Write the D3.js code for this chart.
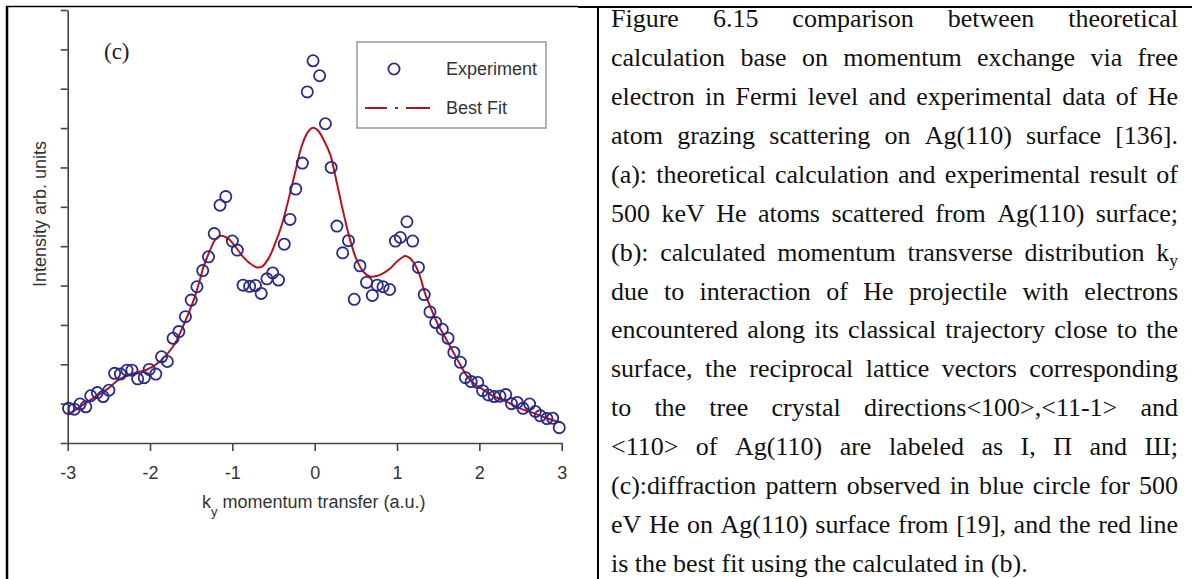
<!DOCTYPE html>
<meta charset="utf-8">
<script src="https://cdn.jsdelivr.net/npm/d3@7/dist/d3.min.js"></script>
<style>
  body { margin: 0; background: #fff; }
</style>

<div id="page"></div>

<script>
// ******************************************
// data
// ******************************************
const xTicks = [-3, -2, -1, 0, 1, 2, 3];
const yTicks = [0, 1, 2, 3, 4, 5, 6, 7, 8, 9, 10, 11];

// experiment (blue circles): k_y and intensity
const expK = [-2.99, -2.92, -2.85, -2.78, -2.72, -2.64, -2.57, -2.50, -2.43, -2.36,
              -2.28, -2.22, -2.15, -2.07, -2.01, -1.93, -1.86, -1.79, -1.72, -1.65,
              -1.57, -1.50, -1.43, -1.36, -1.29, -1.22, -1.15, -1.08, -1.00, -0.94,
              -0.87, -0.79, -0.72, -0.65, -0.58, -0.51, -0.44, -0.37, -0.30, -0.23,
              -0.15, -0.09, -0.02, 0.06, 0.13, 0.20, 0.27, 0.34, 0.41, 0.48,
              0.55, 0.63, 0.70, 0.76, 0.83, 0.91, 0.98, 1.04, 1.12, 1.19,
              1.26, 1.33, 1.40, 1.47, 1.55, 1.62, 1.69, 1.77, 1.83, 1.90,
              1.98, 2.04, 2.11, 2.18, 2.25, 2.32, 2.39, 2.46, 2.53, 2.61,
              2.68, 2.74, 2.82, 2.89, 2.97];
const expI = [0.88, 0.86, 0.99, 0.92, 1.20, 1.28, 1.18, 1.34, 1.77, 1.75,
              1.85, 1.85, 1.63, 1.66, 1.87, 1.75, 2.19, 2.07, 2.66, 2.83,
              3.21, 3.63, 3.97, 4.38, 4.73, 5.32, 6.04, 6.26, 5.13, 4.90,
              4.01, 3.98, 4.00, 3.80, 4.17, 4.32, 4.14, 5.05, 5.68, 6.45,
              7.11, 8.92, 9.71, 9.33, 8.11, 7.00, 5.51, 4.83, 5.14, 3.65,
              4.50, 4.08, 3.75, 4.01, 3.97, 3.90, 5.13, 5.22, 5.62, 5.13,
              4.46, 3.77, 3.33, 3.06, 2.89, 2.66, 2.30, 2.05, 1.66, 1.56,
              1.54, 1.33, 1.22, 1.18, 1.19, 1.23, 1.00, 1.03, 0.88, 0.99,
              0.80, 0.69, 0.62, 0.63, 0.39];

// best fit (red line)
const fitK = [-3.00, -2.85, -2.69, -2.53, -2.37, -2.20, -2.04, -1.88, -1.72, -1.60,
              -1.47, -1.39, -1.35, -1.27, -1.21, -1.15, -1.09, -1.03, -0.95, -0.87,
              -0.79, -0.70, -0.64, -0.56, -0.48, -0.40, -0.32, -0.24, -0.16, -0.08,
              -0.02, 0.04, 0.13, 0.19, 0.27, 0.35, 0.43, 0.51, 0.59, 0.67,
              0.75, 0.83, 0.92, 1.00, 1.10, 1.16, 1.22, 1.28, 1.34, 1.42,
              1.50, 1.58, 1.68, 1.77, 1.85, 1.93, 2.05, 2.17, 2.33, 2.49,
              2.66, 2.82, 3.00];
const fitI = [0.71, 0.92, 1.14, 1.35, 1.62, 1.77, 1.86, 2.07, 2.45, 2.96,
              3.63, 4.18, 4.48, 4.90, 5.16, 5.26, 5.24, 5.16, 4.95, 4.73,
              4.57, 4.46, 4.48, 4.69, 5.07, 5.54, 6.17, 6.85, 7.53, 7.91,
              8.01, 7.94, 7.61, 7.32, 6.60, 5.84, 5.16, 4.65, 4.35, 4.23,
              4.24, 4.31, 4.44, 4.61, 4.75, 4.69, 4.52, 4.23, 3.80, 3.38,
              3.00, 2.70, 2.32, 1.98, 1.70, 1.52, 1.35, 1.19, 1.05, 0.88,
              0.76, 0.63, 0.52];

const legendLabels = ["Experiment", "Best Fit"];

const captionLines = [
    "Figure 6.15 comparison between theoretical",
    "calculation base on momentum exchange via free",
    "electron in Fermi level and experimental data of He",
    "atom grazing scattering on Ag(110) surface [136].",
    "(a): theoretical calculation and experimental result of",
    "500 keV He atoms scattered from Ag(110) surface;",
    "(b): calculated momentum transverse distribution k_y",
    "due to interaction of He projectile with electrons",
    "encountered along its classical trajectory close to the",
    "surface, the reciprocal lattice vectors corresponding",
    "to the tree crystal directions<100>,<11-1> and",
    "<110> of Ag(110) are labeled as I, \u03A0 and \u0428;",
    "(c):diffraction pattern observed in blue circle for 500",
    "eV He on Ag(110) surface from [19], and the red line",
    "is the best fit using the calculated in (b)."
];

// ******************************************
// page
// ******************************************
const W = 1192, H = 579;
const svg = d3.select("#page").append("svg").attr("width", W).attr("height", H);

// table lines
svg.append("line").attr("x1", 6).attr("x2", 578).attr("y1", 6.5).attr("y2", 6.5)
    .attr("stroke", "#000").attr("stroke-width", 1.5);
svg.append("line").attr("x1", 578).attr("x2", W).attr("y1", 7).attr("y2", 7)
    .attr("stroke", "#000").attr("stroke-width", 2);
svg.append("line").attr("x1", 7).attr("x2", 7).attr("y1", 6).attr("y2", H)
    .attr("stroke", "#000").attr("stroke-width", 2.5);
svg.append("line").attr("x1", 598).attr("x2", 598).attr("y1", 6).attr("y2", H)
    .attr("stroke", "#000").attr("stroke-width", 2);

// ******************************************
// chart
// ******************************************
const x = d3.scaleLinear().domain([-3, 3]).range([67.7, 561.7]);
const y = d3.scaleLinear().domain([0, 11]).range([443, 10]);

const axisColor = "#444";
const labelFont = "'Liberation Sans', Arial, sans-serif";
const serifFont = "'Liberation Serif', 'Times New Roman', serif";

const gx = svg.append("g")
    .attr("transform", "translate(0," + y(0) + ")")
    .call(d3.axisBottom(x).tickValues(xTicks).tickSize(8).tickSizeOuter(0).tickPadding(15)
          .tickFormat(d3.format("d")));
const gy = svg.append("g")
    .attr("transform", "translate(" + x(-3) + ",0)")
    .call(d3.axisLeft(y).tickValues(yTicks).tickSize(7).tickSizeOuter(0).tickFormat(""));

[gx, gy].forEach(function (g) {
    g.selectAll("path, line").attr("stroke", axisColor).attr("stroke-width", 1.6);
});
gx.selectAll("text").attr("font-family", labelFont).attr("font-size", 18).attr("fill", "#333")
    .text(function (d) { return d < 0 ? "-" + Math.abs(d) : d; });

// axis titles
const xt = svg.append("text")
    .attr("x", x(0) - 1).attr("y", 508)
    .attr("text-anchor", "middle")
    .attr("font-family", labelFont).attr("font-size", 18).attr("fill", "#333");
xt.append("tspan").text("k");
xt.append("tspan").attr("dy", 8).attr("font-size", 13).text("y");
xt.append("tspan").attr("dy", -8).text(" momentum transfer (a.u.)");

svg.append("text")
    .attr("transform", "translate(46,214) rotate(-90)")
    .attr("text-anchor", "middle")
    .attr("font-family", labelFont).attr("font-size", 18).attr("fill", "#333")
    .text("Intensity arb. units");

svg.append("text")
    .attr("x", 104).attr("y", 59)
    .attr("font-family", serifFont).attr("font-size", 23)
    .attr("fill", "#222")
    .text("(c)");

// best fit line
const blue = "#2b2b86", red = "#b3141d";
const fitData = fitK.map(function (k, i) { return {k: k, v: fitI[i]}; });
svg.append("path")
    .datum(fitData)
    .attr("fill", "none").attr("stroke", red).attr("stroke-width", 2)
    .attr("d", d3.line().x(function (d) { return x(d.k); }).y(function (d) { return y(d.v); })
          .curve(d3.curveCatmullRom.alpha(0.5)));

// experiment circles
const expData = expK.map(function (k, i) { return {k: k, v: expI[i]}; });
svg.append("g").selectAll("circle")
    .data(expData)
    .enter()
        .append("circle")
        .attr("cx", function (d) { return x(d.k); })
        .attr("cy", function (d) { return y(d.v); })
        .attr("r", 5.6)
        .attr("fill", "none").attr("stroke", blue).attr("stroke-width", 1.8);

// legend
const lg = svg.append("g").attr("transform", "translate(357,42)");
lg.append("rect").attr("width", 189).attr("height", 86)
    .attr("fill", "#fff").attr("stroke", "#999").attr("stroke-width", 1.5);
lg.append("circle").attr("cx", 37).attr("cy", 27).attr("r", 5.6)
    .attr("fill", "none").attr("stroke", blue).attr("stroke-width", 1.8);
lg.append("line").attr("x1", 8).attr("x2", 73).attr("y1", 66).attr("y2", 66)
    .attr("stroke", red).attr("stroke-width", 2).attr("stroke-dasharray", "22,8,3,8,24");
lg.selectAll("text.lab")
    .data(legendLabels)
    .enter()
        .append("text")
        .attr("class", "lab")
        .attr("x", 89).attr("y", function (d, i) { return 33 + i * 39; })
        .attr("font-family", labelFont).attr("font-size", 18).attr("fill", "#333")
        .text(function (d) { return d; });

// ******************************************
// caption text, justified word by word
// ******************************************
const capLeft = 611, capWidth = 567, capSize = 26, capTop = 27, capStep = 38.93;
const cap = svg.append("g")
    .attr("font-family", serifFont).attr("font-size", capSize).attr("fill", "#111");

captionLines.forEach(function (line, i) {
    const words = line.split(" ");
    const yb = capTop + i * capStep;
    const nodes = words.map(function (w) {
        const t = cap.append("text").attr("y", yb);
        const parts = w.split("k_y");
        t.append("tspan").text(parts[0]);
        if (parts.length > 1) {
            t.append("tspan").text("k");
            t.append("tspan").attr("dy", 5).attr("font-size", capSize * 0.68).text("y");
        }
        return t;
    });
    const widths = nodes.map(function (t) { return t.node().getComputedTextLength(); });
    const total = d3.sum(widths);
    const last = i === captionLines.length - 1;
    const gap = last ? capSize * 0.25 : (capWidth - total) / (words.length - 1);
    let cx = capLeft;
    nodes.forEach(function (t, j) {
        t.attr("x", cx);
        cx += widths[j] + gap;
    });
});
</script>
